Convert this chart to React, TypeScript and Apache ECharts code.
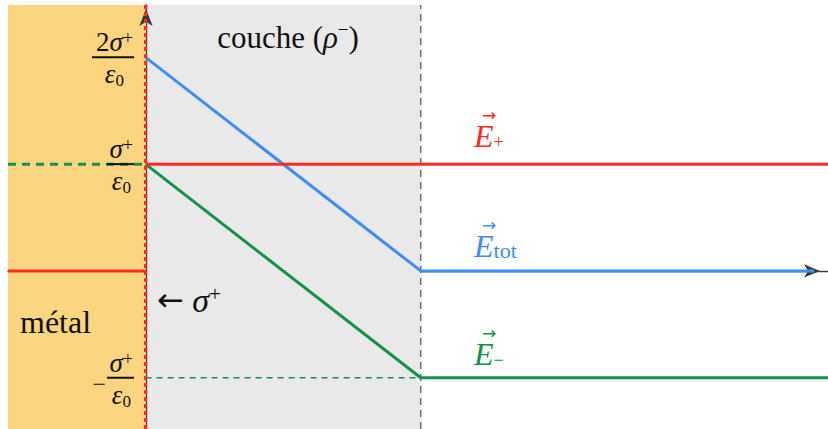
import React, { useEffect, useRef } from "react";
import * as echarts from "echarts";

// Domain: metal (x < 0), charged layer (0 <= x <= 1), vacuum beyond.
const X_MIN = -0.5;
const X_MAX = 2.48;
const Y_MIN = -1.48;
const Y_MAX = 2.49;

const metalRange = [-0.5, 0];
const layerRange = [0, 1];

// Field of the surface charge sigma+ (units of sigma+/eps0)
const ePlusMetal = [[-0.5, 0], [0, 0]];
const ePlusOut = [[0, 1], [2.48, 1]];
const ePlusJump = [[0, -1.48], [0, 2.49]];
// Field of the layer charge rho-
const eMinus = [[0, 1], [1, -1], [2.48, -1]];
const eMinusMetal = [[-0.5, 1], [0, 1]];
const eMinusLevel = [[0, -1], [1, -1]];
// Total field
const eTot = [[0, 2], [1, 0], [2.43, 0]];
// Layer boundary
const layerEdge = [[1, -1.48], [1, 2.49]];

const yTickValues = [-1, 1, 2];

const SERIF = "'Liberation Serif', 'Times New Roman', serif";
const SYMB = "'DejaVu Sans', sans-serif";
const RED = "#fb2c22";
const BLUE = "#3f8df5";
const GREEN = "#15914a";
const INK = "#111";

const f = (size: number, italic = false, fam = SERIF) => `${italic ? "italic " : ""}${size}px ${fam}`;

const fracRich: Record<string, any> = {
  up: { fontFamily: SERIF, fontSize: 27, color: INK, lineHeight: 26 },
  it: { fontFamily: SERIF, fontSize: 27, fontStyle: "italic", color: INK, lineHeight: 26 },
  sup: { fontFamily: SERIF, fontSize: 18, color: INK, lineHeight: 14, verticalAlign: "top", padding: [0, 1, 0, 0] },
  bar2: { width: 42, height: 2, backgroundColor: INK, lineHeight: 4 },
  bar1: { width: 27, height: 2, backgroundColor: INK, lineHeight: 4 },
  minus: { fontFamily: SERIF, fontSize: 24, color: INK, lineHeight: 4, padding: [12, 1, 0, 0] },
  eps: { fontFamily: SERIF, fontSize: 27, fontStyle: "italic", color: INK, lineHeight: 30 },
  sub2: { fontFamily: SERIF, fontSize: 17, color: INK, lineHeight: 18, verticalAlign: "bottom", padding: [0, 10, 0, 0] },
  sub1: { fontFamily: SERIF, fontSize: 17, color: INK, lineHeight: 18, verticalAlign: "bottom", padding: [0, 3, 0, 0] },
};

function tickLabel(v: number): string {
  if (v === 2) return "{up|2}{it|σ}{sup|+}\n{bar2|}\n{eps|ε}{sub2|0}";
  if (v === 1) return "{it|σ}{sup|+}\n{bar1|}\n{eps|ε}{sub1|0}";
  if (v === -1) return "{it|σ}{sup|+}\n{minus|−}{bar1|}\n{eps|ε}{sub1|0}";
  return "";
}

function vecLabel(x: number, y: number, color: string, sub: string, subSize: number) {
  return {
    type: "text",
    z: 100,
    x,
    y,
    style: {
      text: `{a|→}\n{e|E}{s|${sub}}`,
      textAlign: "left",
      textVerticalAlign: "bottom",
      rich: {
        a: { font: f(17, false, SYMB), fill: color, lineHeight: 12, padding: [0, 0, 0, 8] },
        e: { font: f(32, true), fill: color, lineHeight: 30 },
        s: { font: f(subSize), fill: color, lineHeight: 22, verticalAlign: "bottom" },
      },
    },
  };
}

function seg(name: string, data: number[][], color: string, width: number, type: any = "solid", z = 3) {
  return {
    name,
    type: "line",
    data,
    showSymbol: false,
    symbol: "none",
    silent: true,
    z,
    lineStyle: { color, width, type, cap: "butt" },
  };
}

export default function App() {
  const ref = useRef<HTMLDivElement>(null);

  useEffect(() => {
    if (!ref.current) return;
    const chart = echarts.init(ref.current, undefined, { renderer: "svg" });

    chart.setOption({
      animation: false,
      backgroundColor: "#fff",
      grid: { left: 8, right: 0, top: 5, bottom: 0, containLabel: false, outerBoundsMode: "none" },
      xAxis: {
        type: "value",
        min: X_MIN,
        max: X_MAX,
        axisLabel: { show: false },
        axisTick: { show: false },
        splitLine: { show: false },
        axisLine: {
          onZero: true,
          lineStyle: { color: "#3a3a3a", width: 1.3 },
          symbol: ["none", "arrow"],
          symbolSize: [10, 16],
          symbolOffset: [0, -8],
        },
      },
      yAxis: {
        type: "value",
        min: Y_MIN,
        max: Y_MAX,
        // vertical axis drawn at x = 0 (metal surface)
        offset: -138,
        z: 4,
        splitLine: { show: false },
        axisTick: { show: false },
        axisLine: {
          onZero: false,
          lineStyle: { color: "#3a3a3a", width: 1.3 },
          symbol: ["none", "arrow"],
          symbolSize: [10, 17],
          symbolOffset: [0, -4],
        },
        axisLabel: {
          customValues: yTickValues,
          margin: 12,
          align: "right",
          padding: [4, 0, 0, 0],
          formatter: (v: number) => tickLabel(v),
          rich: fracRich,
        },
      },
      series: [
        {
          name: "zones",
          type: "line",
          data: [],
          silent: true,
          z: 1,
          markArea: {
            silent: true,
            data: [
              [
                { xAxis: metalRange[0], itemStyle: { color: "#fcd581" } },
                { xAxis: metalRange[1] },
              ],
              [
                { xAxis: layerRange[0], itemStyle: { color: "#e9e9e9" } },
                { xAxis: layerRange[1] },
              ],
            ],
          },
        },
        seg("layer edge", layerEdge, "#6e6e6e", 1.5, [7, 5], 2),
        seg("E- level", eMinusLevel, GREEN, 1.5, [6, 5], 3),
        seg("E- metal", eMinusMetal, GREEN, 3, [8, 6], 3),
        seg("E tot", eTot, BLUE, 3, "solid", 4),
        seg("E-", eMinus, GREEN, 3, "solid", 4),
        seg("E+ metal", ePlusMetal, RED, 3, "solid", 5),
        seg("E+", ePlusOut, RED, 3, "solid", 5),
        seg("E+ jump", ePlusJump, RED, 3.2, [4, 3], 6),
      ],
      graphic: [
        {
          type: "text",
          z: 100,
          x: 288,
          y: 37,
          style: {
            text: "{n|couche (}{i|ρ}{s|−}{n|)}",
            textAlign: "center",
            textVerticalAlign: "middle",
            rich: {
              n: { font: f(31), fill: INK, lineHeight: 34 },
              i: { font: f(31, true), fill: INK, lineHeight: 34 },
              s: { font: f(19), fill: INK, lineHeight: 20, verticalAlign: "top" },
            },
          },
        },
        {
          type: "text",
          z: 100,
          x: 20,
          y: 322,
          style: {
            text: "métal",
            font: f(32),
            fill: INK,
            textAlign: "left",
            textVerticalAlign: "middle",
          },
        },
        {
          type: "text",
          z: 100,
          x: 157,
          y: 300,
          style: {
            text: "{n|←}{i| σ}{s|+}",
            textAlign: "left",
            textVerticalAlign: "middle",
            rich: {
              n: { font: f(32, false, SYMB), fill: INK, lineHeight: 34 },
              i: { font: f(34, true), fill: INK, lineHeight: 34 },
              s: { font: f(21), fill: INK, lineHeight: 22, verticalAlign: "top" },
            },
          },
        },
        vecLabel(474, 151, RED, "+", 18),
        vecLabel(474, 261, BLUE, "tot", 22),
        vecLabel(474, 369, GREEN, "−", 18),
      ],
    });

    return () => chart.dispose();
  }, []);

  return (
    <div
      ref={ref}
      style={{ position: "absolute", left: 0, top: 0, width: 828, height: 429 }}
    />
  );
}
